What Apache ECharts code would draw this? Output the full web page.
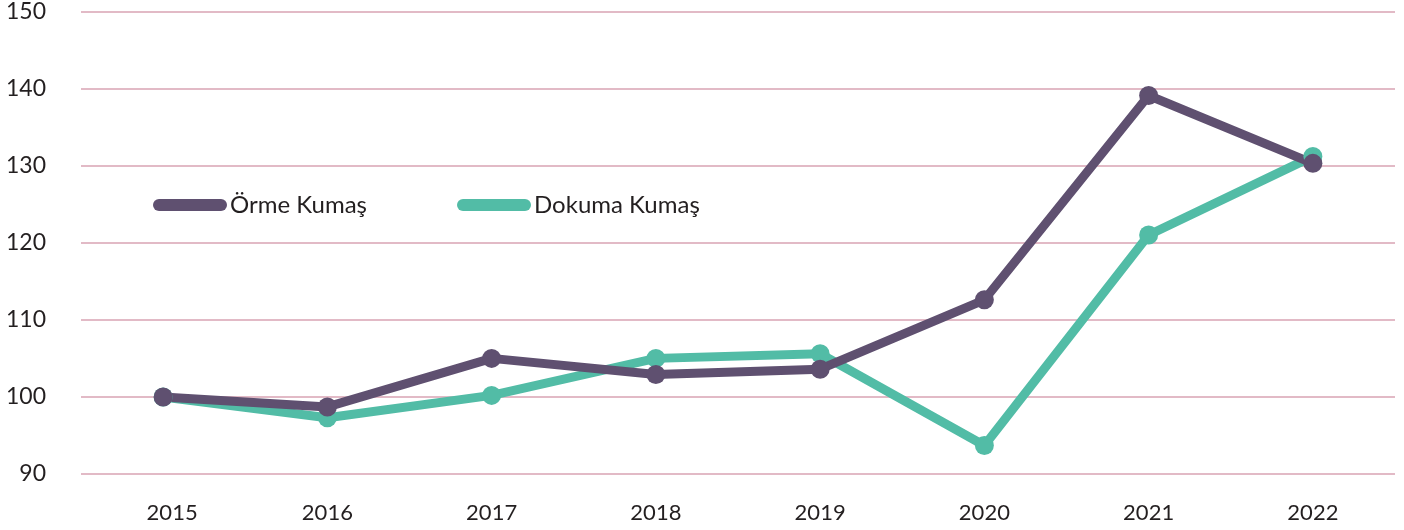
<!DOCTYPE html>
<html>
<head>
<meta charset="utf-8">
<script src="https://cdn.jsdelivr.net/npm/echarts@6/dist/echarts.min.js"></script>
<style>
  html, body { margin: 0; padding: 0; background: #fff; }
  #chart { width: 1404px; height: 530px; }
</style>
</head>
<body>
<div id="chart"></div>
<script>
// veriler
const years = ['2015', '2016', '2017', '2018', '2019', '2020', '2021', '2022']
const ormeKumas = [100, 98.7, 105.0, 102.9, 103.6, 112.6, 139.1, 130.3]
const dokumaKumas = [100, 97.3, 100.2, 105.0, 105.6, 93.7, 121.0, 131.2]
const yTicks = [90, 100, 110, 120, 130, 140, 150]

const purple = '#5f5070'
const green = '#52bca6'
const pill = 'path://M6,0 H68 A6,6 0 0 1 68,12 H6 A6,6 0 0 1 6,0 Z'

const chart = echarts.init(document.getElementById('chart'), null, { renderer: 'canvas' })

// legend ortak ayarlar
const legendBase = {
  top: 193,
  padding: 0,
  itemWidth: 74,
  itemHeight: 13,
  textStyle: { fontSize: 24, color: '#231f20', padding: [0, 0, 0, -2] }
}

// ilk etiket orijinalde biraz sağa kaymış
const xData = years.map((y, i) => i === 0 ? { value: y, textStyle: { padding: [0, 0, 0, 18] } } : y)

const option = {
  animation: false,
  textStyle: { fontFamily: 'Lato, "Open Sans", sans-serif' },
  grid: { left: 81, right: 9, top: 11, bottom: 56 },
  legend: [
    { ...legendBase, left: 153, data: [{ name: 'Örme Kumaş', icon: pill }] },
    { ...legendBase, left: 457, data: [{ name: 'Dokuma Kumaş', icon: pill }] }
  ],
  xAxis: {
    type: 'category',
    data: xData,
    axisLine: { show: false },
    axisTick: { show: false },
    axisLabel: { fontSize: 22, color: '#231f20', margin: 28 }
  },
  yAxis: {
    type: 'value',
    min: yTicks[0],
    max: yTicks[yTicks.length - 1],
    interval: 10,
    axisLine: { show: false },
    axisTick: { show: false },
    axisLabel: { fontSize: 23, color: '#231f20', margin: 35 },
    splitLine: { lineStyle: { color: '#d9a3b3', width: 1.5 } }
  },
  series: [
    {
      name: 'Dokuma Kumaş',
      type: 'line',
      data: dokumaKumas,
      symbol: 'circle',
      symbolSize: 19,
      color: green,
      lineStyle: { width: 9, color: green },
      itemStyle: { color: green }
    },
    {
      name: 'Örme Kumaş',
      type: 'line',
      data: ormeKumas,
      symbol: 'circle',
      symbolSize: 19,
      color: purple,
      lineStyle: { width: 9, color: purple },
      itemStyle: { color: purple }
    }
  ]
}

chart.setOption(option)
</script>
</body>
</html>
